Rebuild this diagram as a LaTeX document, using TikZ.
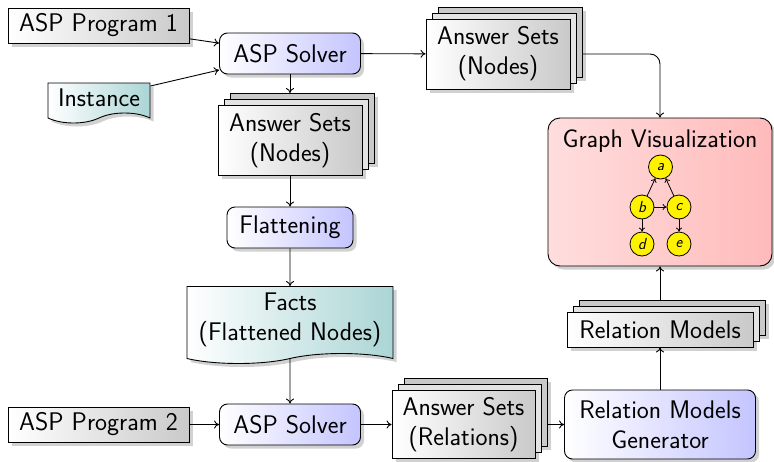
\documentclass[tikz,border=0pt]{standalone}
\usepackage{fontspec}
\usetikzlibrary{shapes.symbols,shadows,arrows.meta}

\tikzset{
  base/.style={draw=black, line width=0.9pt, inner sep=0pt, align=center,
    font=\fontsize{25.5}{30}\selectfont\sffamily},
  softshadow/.style={general shadow={shadow xshift=3.5pt, shadow yshift=-3.5pt,
    fill=black, opacity=.18}},
  databox/.style={base, softshadow, left color=white, right color=gray!42},
  procbox/.style={base, softshadow, rounded corners=8pt,
    left color=white, right color=blue!23},
  docbox/.style={base, softshadow, tape, tape bend top=none,
    tape bend bottom=in and out, tape bend height=10pt,
    left color=white, right color=teal!33},
  stackbox/.style={base,
    general shadow={shadow xshift=3.5pt, shadow yshift=-3.5pt, fill=black, opacity=.18},
    general shadow={shadow xshift=15.5pt, shadow yshift=8.5pt, fill=black, opacity=.18},
    general shadow={shadow xshift=12pt, shadow yshift=12pt, fill=gray!42,
      draw=black, line width=0.9pt},
    general shadow={shadow xshift=6pt, shadow yshift=6pt, fill=gray!22,
      draw=black, line width=0.9pt},
    left color=white, right color=gray!42},
  vizbox/.style={base, softshadow, rounded corners=12pt,
    left color=red!13, middle color=white, right color=red!27},
  titletext/.style={inner sep=0pt, font=\fontsize{25.5}{30}\selectfont\sffamily},
  gnode/.style={circle, draw=black, line width=0.8pt, fill=yellow,
    minimum size=24pt, inner sep=0pt,
    font=\fontsize{16}{19}\selectfont\sffamily\slshape},
  flow/.style={-{To[length=5pt,width=8pt]}, line width=0.9pt},
  gedge/.style={-{To[length=4pt,width=6pt]}, line width=0.8pt},
}

\begin{document}
\begin{tikzpicture}[x=1pt, y=-1pt]
  \useasboundingbox (0,0) rectangle (774,461);

  % first solving stage
  \node[databox, minimum width=181pt, minimum height=35pt] (prog1) at (98.5,25.5) {ASP Program 1};
  \node[procbox, minimum width=141pt, minimum height=41pt] (solve1) at (290,53.5) {ASP Solver};
  \node[docbox, minimum width=102pt, minimum height=40pt] (inst) at (99,98) {Instance};
  \node[stackbox, minimum width=144pt, minimum height=70pt] (sets1) at (498,54) {Answer Sets\\(Nodes)};
  \node[stackbox, minimum width=144pt, minimum height=70pt] (sets2) at (290,140.5) {Answer Sets\\(Nodes)};

  % flattening
  \node[procbox, minimum width=126pt, minimum height=41pt] (flat) at (290,227.5) {Flattening};
  \node[docbox, minimum width=206pt, minimum height=77pt] (facts) at (290,320) {Facts\\(Flattened Nodes)};

  % second solving stage
  \node[databox, minimum width=181pt, minimum height=35pt] (prog2) at (98.5,424.5) {ASP Program 2};
  \node[procbox, minimum width=141pt, minimum height=41pt] (solve2) at (290,424.5) {ASP Solver};
  \node[stackbox, minimum width=143pt, minimum height=68pt] (sets3) at (463.5,424.5) {Answer Sets\\(Relations)};
  \node[procbox, minimum width=191pt, minimum height=69pt] (gen) at (660,424.5) {Relation Models\\Generator};
  \node[stackbox, minimum width=186pt, minimum height=35pt] (models) at (660,329.5) {Relation Models};

  % visualization panel with a small example graph
  \node[vizbox, minimum width=224pt, minimum height=148pt] (viz) at (660,192) {};
  \node[titletext] (viztitle) at (660,141) {Graph Visualization};
  \node[gnode] (ga) at (660.5,167) {a};
  \node[gnode] (gb) at (642,207) {b};
  \node[gnode] (gc) at (679,207) {c};
  \node[gnode] (gd) at (642,244) {d};
  \node[gnode] (ge) at (679,244) {e};
  \draw[gedge] (gb) -- (ga);
  \draw[gedge] (gc) -- (ga);
  \draw[gedge] (gb) -- (gc);
  \draw[gedge] (gb) -- (gd);
  \draw[gedge] (gc) -- (ge);

  % data flow
  \draw[flow] (prog1) -- (solve1);
  \draw[flow] (inst) -- (solve1);
  \draw[flow] (solve1) -- (sets1);
  \draw[flow, rounded corners=10pt] ([xshift=12pt]sets1.east) -| (viz.north);
  \draw[flow] (solve1) -- ([yshift=12pt]sets2.north);
  \draw[flow] (sets2) -- (flat);
  \draw[flow] (flat) -- (facts);
  \draw[flow] (facts) -- (solve2);
  \draw[flow] (prog2) -- (solve2);
  \draw[flow] (solve2) -- (sets3);
  \draw[flow] ([xshift=12pt]sets3.east) -- (gen);
  \draw[flow] (gen) -- (models);
  \draw[flow] ([yshift=12pt]models.north) -- (viz);
\end{tikzpicture}
\end{document}
